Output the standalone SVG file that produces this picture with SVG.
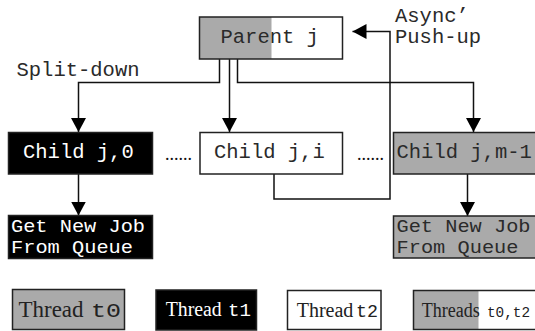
<svg xmlns="http://www.w3.org/2000/svg" width="535" height="331" viewBox="0 0 535 331">
<style>
.box{stroke:#222;stroke-width:1.5}
.g{fill:#aaaaaa}
.k{fill:#000}
.w{fill:#fff}
.t{font-family:"Liberation Mono","Courier New",monospace;font-size:20.5px;fill:#2a2a2a}
.q{font-family:"Liberation Mono","Courier New",monospace;font-size:18.5px;fill:#2a2a2a}
.tw{fill:#fff}
.s{font-family:"Liberation Serif","Times New Roman",serif}
.m{font-family:"Liberation Mono","Courier New",monospace}
.ln{fill:none;stroke:#111;stroke-width:1.5}
.dots{font-family:"Liberation Serif",serif;font-size:18px;fill:#111}
</style>
<defs>
<marker id="ah" markerUnits="userSpaceOnUse" markerWidth="15" markerHeight="16" refX="14" refY="7.5" orient="auto" viewBox="0 0 15 16">
<path d="M0,0 L14,7.5 L0,15 z" fill="#000"/>
</marker>
</defs>

<g id="connectors">
<path class="ln" d="M219.5,59 V82.5 H78.5 V132" marker-end="url(#ah)"/>
<path class="ln" d="M229.5,59 V132" marker-end="url(#ah)"/>
<path class="ln" d="M237.5,59 V82.5 H473.5 V132" marker-end="url(#ah)"/>
<path class="ln" d="M274,174 V199 H390 V31.5 H352.5" marker-end="url(#ah)"/>
<path class="ln" d="M78.5,174 V215.5" marker-end="url(#ah)"/>
<path class="ln" d="M467.5,174 V216" marker-end="url(#ah)"/>
</g>

<g id="parent">
<rect x="199.5" y="17" width="143" height="42" class="w" stroke="none"/>
<rect x="199.5" y="17" width="72" height="42" class="g" stroke="none"/>
<rect x="199.5" y="17" width="143" height="42" class="box" fill="none"/>
<text x="220.5" y="43" class="t">Parent j</text>
</g>

<g id="label-split">
<text x="16.5" y="76" class="t">Split-down</text>
</g>
<g id="label-async">
<text x="395" y="21.5" class="t">Async’</text>
<text x="395" y="42.5" class="t">Push-up</text>
</g>

<g id="child0">
<rect x="8.5" y="132.5" width="144" height="41.5" class="box k" stroke="#555"/>
<text x="23" y="158" class="t tw">Child j,0</text>
</g>
<g id="childi">
<rect x="200" y="132.5" width="142.5" height="41.5" class="box w"/>
<text x="214" y="158" class="t">Child j,i</text>
</g>
<g id="childm">
<rect x="393.5" y="132.5" width="145" height="41.5" class="box g"/>
<text x="396.5" y="158" class="t">Child j,m-1</text>
</g>

<g id="dots">
<text x="165" y="160" class="dots">......</text>
<text x="357" y="160" class="dots">......</text>
</g>

<g id="getjob0">
<rect x="8.5" y="215.5" width="144" height="43" class="box k" stroke="#555"/>
<text x="11" y="231.5" class="q tw" textLength="134" lengthAdjust="spacingAndGlyphs">Get New Job</text>
<text x="11" y="252.5" class="q tw" textLength="122" lengthAdjust="spacingAndGlyphs">From Queue</text>
</g>
<g id="getjobm">
<rect x="393.5" y="216" width="145" height="42" class="box g"/>
<text x="396.5" y="231.5" class="q" textLength="134" lengthAdjust="spacingAndGlyphs">Get New Job</text>
<text x="396.5" y="252.5" class="q" textLength="122" lengthAdjust="spacingAndGlyphs">From Queue</text>
</g>

<g id="legend-t0">
<rect x="12.5" y="289.5" width="112" height="40" class="box g"/>
<text y="317" fill="#222"><tspan x="18.5" class="s" font-size="23" textLength="65" lengthAdjust="spacingAndGlyphs">Thread</tspan><tspan x="91" class="m" font-size="21" textLength="30" lengthAdjust="spacingAndGlyphs">t0</tspan></text>
</g>
<g id="legend-t1">
<rect x="156" y="290" width="100.5" height="40" class="box k"/>
<text y="316" fill="#fff"><tspan x="165.7" class="s" font-size="20" textLength="56" lengthAdjust="spacingAndGlyphs">Thread</tspan><tspan x="228" class="m" font-size="19" textLength="23" lengthAdjust="spacingAndGlyphs">t1</tspan></text>
</g>
<g id="legend-t2">
<rect x="287.5" y="290.5" width="93.5" height="39" class="box w"/>
<text y="316.5" fill="#222"><tspan x="296.7" class="s" font-size="20" textLength="56.7" lengthAdjust="spacingAndGlyphs">Thread</tspan><tspan x="356" class="m" font-size="19" textLength="22" lengthAdjust="spacingAndGlyphs">t2</tspan></text>
</g>
<g id="legend-t02">
<rect x="413.5" y="290.5" width="125" height="39" class="w" stroke="none"/>
<rect x="413.5" y="290.5" width="65" height="39" class="g" stroke="none"/>
<rect x="413.5" y="290.5" width="125" height="39" class="box" fill="none"/>
<text y="316.5" fill="#222"><tspan x="421.7" class="s" font-size="20" textLength="58" lengthAdjust="spacingAndGlyphs">Threads</tspan><tspan x="487" class="m" font-size="15" textLength="43" lengthAdjust="spacingAndGlyphs">t0,t2</tspan></text>
</g>
</svg>
